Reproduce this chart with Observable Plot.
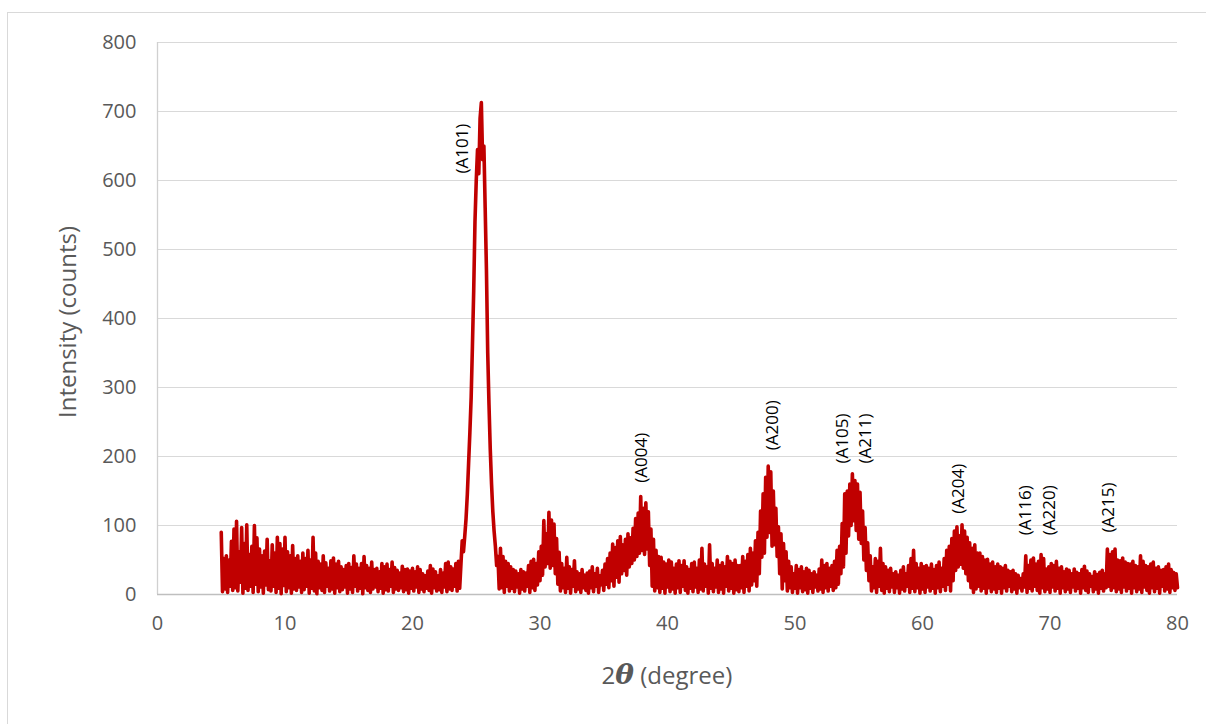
<!DOCTYPE html>
<html>
<head>
<meta charset="utf-8">
<script src="https://cdn.jsdelivr.net/npm/d3@7"></script>
<script src="https://cdn.jsdelivr.net/npm/@observablehq/plot@0.6"></script>
<style>
  html, body { margin: 0; padding: 0; background: #fff; }
  #wrap { position: relative; width: 1206px; height: 724px; overflow: hidden; }
  #frame { position: absolute; left: 7px; top: 12px; width: 1220px; height: 730px;
           border: 1px solid #d9d9d9; box-sizing: border-box; }
  #chart { position: absolute; left: 0; top: 0; }
</style>
</head>
<body>
<div id="wrap">
  <div id="frame"></div>
  <div id="chart"></div>
</div>
<script>
// XRD scan: 2θ from 5° to 80° sampled every 0.1°
const startAngle = 5.0;
const angleStep = 0.1;
const intensity = [
  // 5°
  90, 4, 52, 8, 56, 3, 50, 12, 77, 6,
  95, 10, 106, 5, 62, 18, 97, 2, 74, 9,
  101, 6, 58, 12, 70, 3, 100, 15, 82, 4,
  66, 11, 56, 2, 63, 14, 80, 7, 49, 5,
  72, 12, 60, 3, 83, 9, 74, 1, 66, 13,
  // 10°
  83, 4, 62, 10, 56, 2, 71, 8, 52, 6,
  56, 11, 48, 3, 60, 7, 52, 12, 64, 2,
  50, 9, 83, 5, 60, 1, 48, 10, 44, 6,
  56, 3, 46, 12, 38, 5, 49, 8, 53, 2,
  44, 10, 48, 4, 40, 7, 36, 11, 42, 2,
  // 15°
  45, 8, 39, 3, 56, 12, 44, 5, 38, 9,
  45, 1, 55, 10, 42, 6, 38, 3, 47, 8,
  36, 11, 38, 4, 33, 9, 45, 2, 40, 7,
  44, 5, 36, 12, 47, 3, 39, 8, 35, 6,
  31, 10, 41, 4, 36, 7, 37, 2, 34, 9,
  // 20°
  38, 5, 33, 11, 40, 3, 36, 8, 30, 4,
  27, 9, 34, 6, 42, 2, 37, 10, 33, 5,
  27, 7, 36, 3, 31, 11, 45, 4, 47, 8,
  40, 6, 37, 12, 45, 5, 48, 9, 44, 78,
  62, 85, 110, 145, 190, 235, 285, 360, 440, 540,
  // 25°
  600, 645, 610, 690, 713, 630, 650, 560, 470, 350,
  275, 210, 160, 120, 92, 70, 42, 55, 8, 67,
  10, 55, 3, 48, 12, 45, 5, 40, 9, 36,
  4, 34, 11, 30, 2, 36, 8, 33, 5, 31,
  12, 42, 3, 48, 10, 51, 6, 45, 14, 62,
  // 30°
  20, 70, 28, 107, 40, 88, 45, 119, 38, 108,
  42, 102, 30, 81, 15, 61, 5, 45, 10, 38,
  3, 54, 9, 40, 2, 36, 12, 49, 4, 33,
  8, 30, 3, 36, 10, 28, 6, 31, 2, 34,
  10, 40, 4, 30, 12, 38, 3, 27, 14, 35,
  // 35°
  6, 44, 15, 52, 10, 60, 20, 73, 12, 68,
  25, 78, 18, 84, 30, 72, 35, 80, 28, 88,
  40, 82, 45, 96, 50, 110, 55, 118, 60, 142,
  64, 125, 58, 133, 66, 120, 42, 95, 12, 80,
  5, 64, 10, 55, 3, 54, 9, 47, 2, 44,
  // 40°
  11, 50, 4, 47, 8, 38, 2, 44, 10, 49,
  3, 42, 12, 49, 6, 40, 2, 36, 9, 45,
  4, 47, 11, 38, 3, 50, 8, 67, 5, 44,
  12, 40, 2, 72, 9, 45, 4, 38, 11, 50,
  3, 42, 8, 46, 2, 40, 12, 55, 5, 48,
  // 45°
  9, 45, 2, 50, 7, 42, 4, 42, 10, 55,
  3, 48, 12, 58, 5, 67, 14, 60, 20, 78,
  12, 90, 30, 121, 54, 146, 60, 170, 83, 186,
  90, 178, 70, 150, 72, 125, 55, 98, 30, 88,
  8, 74, 20, 62, 5, 48, 10, 40, 3, 30,
  // 50°
  9, 42, 2, 36, 10, 40, 4, 33, 7, 38,
  2, 35, 9, 30, 3, 33, 11, 28, 5, 37,
  8, 50, 3, 42, 10, 45, 5, 38, 12, 42,
  6, 48, 10, 64, 15, 70, 30, 103, 40, 146,
  60, 150, 85, 160, 100, 175, 107, 165, 93, 160,
  // 55°
  80, 148, 74, 121, 50, 97, 35, 75, 20, 56,
  5, 40, 10, 52, 3, 48, 12, 67, 6, 45,
  2, 40, 9, 35, 4, 38, 11, 30, 3, 33,
  10, 28, 2, 35, 8, 40, 5, 30, 12, 42,
  3, 52, 9, 64, 4, 45, 10, 38, 2, 45,
  // 60°
  8, 40, 3, 42, 11, 38, 5, 44, 9, 36,
  2, 42, 10, 47, 4, 38, 12, 52, 6, 64,
  15, 70, 5, 81, 20, 92, 35, 98, 40, 85,
  44, 101, 38, 92, 30, 83, 20, 75, 10, 67,
  3, 72, 8, 60, 12, 60, 5, 55, 9, 50,
  // 65°
  2, 51, 10, 44, 4, 47, 8, 40, 3, 44,
  9, 40, 2, 38, 10, 42, 5, 35, 12, 33,
  4, 35, 8, 30, 2, 28, 10, 23, 5, 30,
  11, 56, 3, 42, 9, 50, 5, 53, 12, 44,
  6, 48, 2, 58, 10, 52, 4, 37, 8, 40,
  // 70°
  3, 45, 11, 42, 5, 48, 9, 38, 2, 40,
  10, 33, 4, 37, 8, 35, 3, 30, 11, 37,
  5, 32, 9, 30, 2, 36, 10, 41, 6, 34,
  3, 30, 12, 26, 4, 33, 8, 29, 2, 32,
  9, 35, 5, 30, 10, 66, 12, 58, 6, 62,
  // 75°
  10, 66, 4, 50, 8, 49, 3, 53, 11, 47,
  5, 45, 9, 44, 2, 48, 10, 42, 4, 40,
  8, 56, 3, 48, 11, 42, 6, 40, 2, 44,
  10, 47, 4, 38, 9, 40, 2, 35, 12, 36,
  5, 40, 8, 44, 3, 36, 10, 32, 6, 30,
  // 80°
  10
];

// Anatase reflection labels: position (2θ) and the count level where each label starts
const peakLabels = ["(A101)", "(A004)", "(A200)", "(A105)", "(A211)", "(A204)", "(A116)", "(A220)", "(A215)"];
const peakAngles = [23.95, 38.0, 48.25, 53.7, 55.55, 62.8, 68.1, 70.0, 74.6];
const peakLabelLevels = [610, 162, 209, 190, 190, 117, 86, 86, 90];

const xTicks = [0, 10, 20, 30, 40, 50, 60, 70, 80];
const yTicks = [0, 100, 200, 300, 400, 500, 600, 700, 800];

const scan = intensity.map((v, i) => ({ angle: startAngle + i * angleStep, counts: v }));
const labels = peakLabels.map((t, i) => ({ text: t, angle: peakAngles[i], counts: peakLabelLevels[i] }));

const tickColor = "#595959";

const chart = Plot.plot({
  width: 1206,
  height: 724,
  marginLeft: 157,
  marginRight: 29,
  marginTop: 42,
  marginBottom: 130,
  style: { fontFamily: "'Open Sans', sans-serif", fontSize: "20px", color: tickColor, background: "transparent", overflow: "visible" },
  x: { domain: [0, 80] },
  y: { domain: [0, 800] },
  marks: [
    Plot.gridY(yTicks, { stroke: "#d9d9d9", strokeOpacity: 1, strokeWidth: 1 }),
    Plot.ruleX([0], { stroke: "#d0d0d0", strokeWidth: 1.3 }),
    Plot.ruleY([0], { stroke: "#bfbfbf", strokeWidth: 1.3 }),
    Plot.line(scan, { x: "angle", y: "counts", stroke: "#c00000", strokeWidth: 3.6, strokeLinejoin: "round", strokeLinecap: "round" }),
    Plot.text(labels, { x: "angle", y: "counts", text: "text", rotate: -90, textAnchor: "start", lineAnchor: "middle", fill: "#000", fontSize: 17, fontFamily: "'Open Sans', sans-serif" }),
    Plot.axisX(xTicks, { tickSize: 0, tickPadding: 21, label: null, fill: tickColor, fontSize: 20 }),
    Plot.axisY(yTicks, { tickSize: 0, tickPadding: 21, label: null, fill: tickColor, fontSize: 20 })
  ]
});
document.getElementById("chart").appendChild(chart);

// Axis titles (the x title carries an italic serif theta)
const svg = d3.select(chart);
svg.append("text")
  .attr("transform", "translate(66,322) rotate(-90)")
  .attr("text-anchor", "middle")
  .attr("dominant-baseline", "central")
  .attr("fill", tickColor)
  .attr("font-family", "'Open Sans', sans-serif")
  .attr("font-size", 24)
  .text("Intensity (counts)");

const xt = svg.append("text")
  .attr("x", 667)
  .attr("y", 684)
  .attr("text-anchor", "middle")
  .attr("fill", tickColor)
  .attr("font-family", "'Open Sans', sans-serif")
  .attr("font-size", 24);
xt.append("tspan").text("2");
xt.append("tspan").attr("font-family", "'DejaVu Serif', serif").attr("font-style", "italic").attr("font-weight", "bold").attr("font-size", 28).text("θ");
xt.append("tspan").text(" (degree)");
</script>
</body>
</html>
